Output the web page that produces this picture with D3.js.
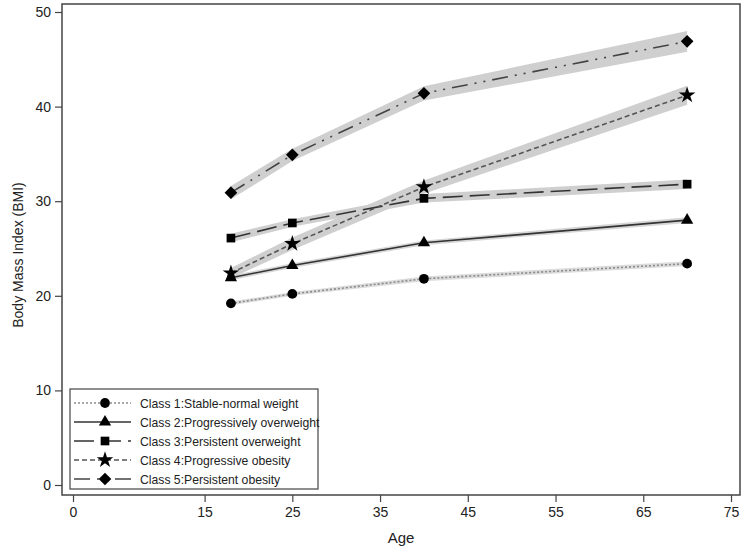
<!DOCTYPE html>
<html>
<head>
<meta charset="utf-8">
<script src="https://cdn.jsdelivr.net/npm/d3@7/dist/d3.min.js"></script>
<style>
  body { margin: 0; background: #fff; }
  svg { display: block; }
</style>
</head>
<body>
<svg id="chart" width="744" height="551"></svg>
<script>
// ---- data ----
const ages = [18, 25, 40, 70];
const classNames = [
  "Class 1:Stable-normal weight",
  "Class 2:Progressively overweight",
  "Class 3:Persistent overweight",
  "Class 4:Progressive obesity",
  "Class 5:Persistent obesity"
];
const class1 = [19.2, 20.2, 21.8, 23.4];
const class2 = [21.9, 23.2, 25.6, 28.0];
const class3 = [26.1, 27.7, 30.3, 31.8];
const class4 = [22.4, 25.5, 31.5, 41.2];
const class5 = [30.9, 34.9, 41.4, 46.9];
// confidence band half-widths (BMI units)
const band1 = [0.2, 0.2, 0.25, 0.25];
const band2 = [0.25, 0.25, 0.25, 0.3];
const band3 = [0.45, 0.4, 0.45, 0.5];
const band4 = [0.55, 0.65, 0.7, 1.0];
const band5 = [0.7, 0.65, 0.75, 1.1];
const xTicks = [0, 15, 25, 35, 45, 55, 65, 75];
const yTicks = [0, 10, 20, 30, 40, 50];

const seriesValues = [class1, class2, class3, class4, class5];
const bandValues = [band1, band2, band3, band4, band5];

// ---- styles ----
const styles = [
  { dash: "2,2", color: "#8a8a8a", width: 1.6, band: "#dcdcdc", sym: d3.symbolCircle, size: 75, rot: 0 },
  { dash: null, color: "#333", width: 1.6, band: "#d6d6d6", sym: d3.symbolTriangle, size: 65, rot: 0 },
  { dash: "20,7", color: "#333", width: 1.6, band: "#cfcfcf", sym: d3.symbolSquare, size: 75, rot: 0 },
  { dash: "5,3", color: "#555", width: 1.6, band: "#cfcfcf", sym: d3.symbolStar, size: 85, rot: 0 },
  { dash: "16,7,2,7,2,7", color: "#444", width: 1.6, band: "#cfcfcf", sym: d3.symbolSquare, size: 80, rot: 45 }
];

const svg = d3.select("#chart");
const frame = { left: 62, right: 740, top: 4, bottom: 495 };

const x = d3.scaleLinear().domain([0, 75]).range([73, 731]);
const y = d3.scaleLinear().domain([0, 50]).range([485, 12]);

const g = svg.append("g");

// bands
seriesValues.forEach((vals, i) => {
  const pts = ages.map((a, j) => ({ a, lo: vals[j] - bandValues[i][j], hi: vals[j] + bandValues[i][j] }));
  g.append("path")
    .datum(pts)
    .attr("fill", styles[i].band)
    .attr("d", d3.area().x(d => x(d.a)).y0(d => y(d.lo)).y1(d => y(d.hi)));
});

// lines
seriesValues.forEach((vals, i) => {
  const pts = ages.map((a, j) => ({ a, v: vals[j] }));
  g.append("path")
    .datum(pts)
    .attr("fill", "none")
    .attr("stroke", styles[i].color)
    .attr("stroke-width", styles[i].width)
    .attr("stroke-dasharray", styles[i].dash)
    .attr("d", d3.line().x(d => x(d.a)).y(d => y(d.v)));
});

// markers
seriesValues.forEach((vals, i) => {
  g.selectAll(null)
    .data(ages.map((a, j) => ({ a, v: vals[j] })))
    .enter().append("path")
    .attr("transform", d => `translate(${x(d.a)},${y(d.v)}) rotate(${styles[i].rot})`)
    .attr("d", d3.symbol().type(styles[i].sym).size(styles[i].size))
    .attr("fill", "#000");
});

// frame
svg.append("rect")
  .attr("x", frame.left).attr("y", frame.top)
  .attr("width", frame.right - frame.left).attr("height", frame.bottom - frame.top)
  .attr("fill", "none").attr("stroke", "#444").attr("stroke-width", 1.5);

// axes
const xAxis = d3.axisBottom(x).tickValues(xTicks).tickSize(7).tickPadding(5);
const xg = svg.append("g").attr("transform", `translate(0,${frame.bottom})`).call(xAxis);
xg.select(".domain").remove();
xg.selectAll("line").attr("stroke", "#444").attr("stroke-width", 1.2);
xg.selectAll("text").attr("font-family", "Liberation Sans, Arial, sans-serif").attr("font-size", 14).attr("fill", "#222");

const yAxis = d3.axisLeft(y).tickValues(yTicks).tickSize(7).tickPadding(4);
const yg = svg.append("g").attr("transform", `translate(${frame.left},0)`).call(yAxis);
yg.select(".domain").remove();
yg.selectAll("line").attr("stroke", "#444").attr("stroke-width", 1.2);
yg.selectAll("text").attr("font-family", "Liberation Sans, Arial, sans-serif").attr("font-size", 14).attr("fill", "#222");

// axis titles
svg.append("text")
  .attr("x", (frame.left + frame.right) / 2).attr("y", 543)
  .attr("text-anchor", "middle")
  .attr("font-family", "Liberation Sans Narrow, Arial Narrow, Liberation Sans, sans-serif")
  .attr("font-size", 15).attr("fill", "#222")
  .text("Age");

svg.append("text")
  .attr("transform", "translate(23,255) rotate(-90)")
  .attr("text-anchor", "middle")
  .attr("font-family", "Liberation Sans Narrow, Arial Narrow, Liberation Sans, sans-serif")
  .attr("font-size", 14).attr("fill", "#222")
  .text("Body Mass Index (BMI)");

// legend
const lg = svg.append("g");
lg.append("rect")
  .attr("x", 70).attr("y", 389).attr("width", 248).attr("height", 100)
  .attr("fill", "#fff").attr("stroke", "#444").attr("stroke-width", 1.2);
classNames.forEach((name, i) => {
  const yy = 403 + i * 19;
  lg.append("line")
    .attr("x1", 74).attr("x2", 131).attr("y1", yy).attr("y2", yy)
    .attr("stroke", styles[i].color).attr("stroke-width", styles[i].width)
    .attr("stroke-dasharray", styles[i].dash);
  lg.append("path")
    .attr("transform", `translate(105,${yy}) rotate(${styles[i].rot})`)
    .attr("d", d3.symbol().type(styles[i].sym).size(styles[i].size))
    .attr("fill", "#000");
  lg.append("text")
    .attr("x", 140).attr("y", yy + 5)
    .attr("font-family", "Liberation Sans, Arial, sans-serif")
    .attr("font-size", 12.2).attr("fill", "#222")
    .text(name);
});
</script>
</body>
</html>
